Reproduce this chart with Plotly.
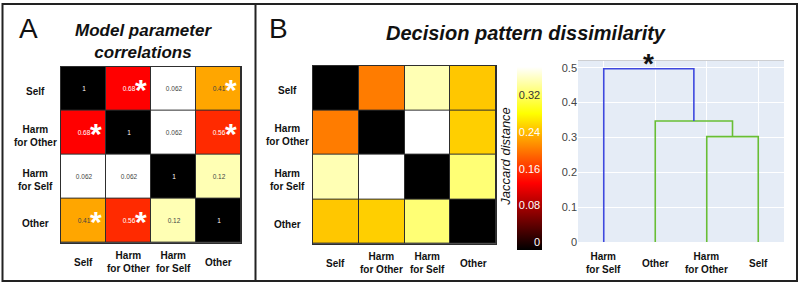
import plotly.graph_objects as go

FONT = "Liberation Sans, Arial, sans-serif"
W, H = 800, 290

# ---------------- data ----------------
params = ["Self", "Harm for Other", "Harm for Self", "Other"]
param_labels = ["Self", "Harm<br>for Other", "Harm<br>for Self", "Other"]

# Panel A: model parameter correlations (rows top -> bottom)
corr_self = [1, 0.68, 0.062, 0.41]
corr_harm_other = [0.68, 1, 0.062, 0.56]
corr_harm_self = [0.062, 0.062, 1, 0.12]
corr_other = [0.41, 0.56, 0.12, 1]
sig_self = [False, True, False, True]
sig_harm_other = [True, False, False, True]
sig_harm_self = [False, False, False, False]
sig_other = [True, True, False, False]

# Panel B: Jaccard distances (rows top -> bottom)
jac_self = [0, 0.22, 0.37, 0.265]
jac_harm_other = [0.22, 0, 0.40, 0.27]
jac_harm_self = [0.37, 0.40, 0, 0.345]
jac_other = [0.265, 0.27, 0.345, 0]
cbar_tickvals = [0, 0.08, 0.16, 0.24, 0.32]
cbar_ticktext = ["0", "0.08", "0.16", "0.24", "<span style='color:#333'>0.32</span>"]

# Dendrogram (leaf order left -> right, scipy-style linkage)
leaf_order = ["Harm for Self", "Other", "Harm for Other", "Self"]
leaf_labels = ["Harm<br>for Self", "Other", "Harm<br>for Other", "Self"]
merge_left = [2, 1, 0]        # indices: 0..3 leaves, 4.. clusters
merge_right = [3, 4, 5]
merge_height = [0.302, 0.347, 0.497]
merge_sig = [False, False, True]

# ---------------- styles ----------------
GREEN = "rgb(104,190,52)"
BLUE = "rgb(62,72,222)"
merge_color = [GREEN, GREEN, BLUE]
GRIDLINE = "#2e2e2e"

corr_scale = [[0, "#ffffff"], [0.07, "#ffffff"], [0.12, "#ffffb4"], [0.41, "#ffa600"],
              [0.56, "#ff2a00"], [0.68, "#ff0000"], [0.84, "#7a0000"], [1, "#000000"]]
hot_scale = [[0, "#000000"], [0.365, "#ff0000"], [0.746, "#ffff00"], [1, "#ffffff"]]


def px_x(p):
    return p / W


def px_y(p):
    return 1 - p / H


fig = go.Figure()

corr_z = [corr_self, corr_harm_other, corr_harm_self, corr_other]
corr_sig = [sig_self, sig_harm_other, sig_harm_self, sig_other]
fig.add_trace(go.Heatmap(
    z=corr_z, x=params, y=params, xaxis="x", yaxis="y",
    colorscale=corr_scale, zmin=0, zmax=1, showscale=False,
    xgap=1, ygap=1, texttemplate="%{z}", textfont=dict(size=6.5, family=FONT),
    hoverinfo="skip"))

jac_z = [jac_self, jac_harm_other, jac_harm_self, jac_other]
fig.add_trace(go.Heatmap(
    z=jac_z, x=params, y=params, xaxis="x2", yaxis="y2",
    colorscale=hot_scale, zmin=0, zmax=0.4, xgap=1, ygap=1,
    colorbar=dict(x=px_x(517), xanchor="left", xref="paper", xpad=0, ypad=0,
                  y=px_y(68), yanchor="top", yref="paper",
                  thickness=25, thicknessmode="pixels",
                  len=183, lenmode="pixels", outlinewidth=0,
                  tickvals=cbar_tickvals, ticktext=cbar_ticktext, ticks="",
                  ticklabelposition="inside top",
                  tickfont=dict(size=11, color="white", family=FONT)),
    hoverinfo="skip"))

# dendrogram links
pos = {i: 5 + 10 * i for i in range(len(leaf_order))}
hgt = {i: 0.0 for i in range(len(leaf_order))}
annotations = []
for k in range(len(merge_height)):
    l, r, h = merge_left[k], merge_right[k], merge_height[k]
    fig.add_trace(go.Scatter(
        x=[pos[l], pos[l], pos[r], pos[r]], y=[hgt[l], h, h, hgt[r]],
        mode="lines", line=dict(color=merge_color[k], width=1.6),
        xaxis="x4", yaxis="y4", showlegend=False, hoverinfo="skip"))
    new = len(leaf_order) + k
    pos[new] = (pos[l] + pos[r]) / 2
    hgt[new] = h
    if merge_sig[k]:
        annotations.append(dict(x=pos[new], y=h, xref="x4", yref="y4", text="*",
                                showarrow=False, xanchor="center", yanchor="middle", yshift=5,
                                font=dict(size=28, color="#111", family=FONT, weight="bold")))

# significance asterisks in panel A
for i, row in enumerate(corr_sig):
    for j, s in enumerate(row):
        if s:
            annotations.append(dict(x=params[j], y=params[i], xref="x", yref="y", text="*",
                                    showarrow=False, xanchor="center", yanchor="middle",
                                    xshift=12, yshift=-1,
                                    font=dict(size=30, color="white", family=FONT, weight="bold")))

lab_font = dict(size=10, color="#111", family=FONT, weight="bold")
for p, lab in zip(params, param_labels):
    annotations.append(dict(x=px_x(35), xref="paper", y=p, yref="y", text=lab,
                            showarrow=False, font=lab_font, align="center",
                            xanchor="center", yanchor="middle", yshift=-3))
    annotations.append(dict(x=p, xref="x", y=px_y(268), yref="paper", text=lab,
                            showarrow=False, font=lab_font, align="center",
                            xanchor="center", yanchor="middle"))
    annotations.append(dict(x=px_x(287), xref="paper", y=p, yref="y2", text=lab,
                            showarrow=False, font=lab_font, align="center",
                            xanchor="center", yanchor="middle", yshift=-3))
    annotations.append(dict(x=p, xref="x2", y=px_y(269), yref="paper", text=lab,
                            showarrow=False, font=lab_font, align="center",
                            xanchor="center", yanchor="middle"))
for i, lab in enumerate(leaf_labels):
    annotations.append(dict(x=pos[i], xref="x4", y=px_y(269), yref="paper", text=lab,
                            showarrow=False, font=lab_font, align="center",
                            xanchor="center", yanchor="middle"))

# titles & panel letters
annotations += [
    dict(x=px_x(143), y=px_y(42), xref="paper", yref="paper", showarrow=False,
         text="Model parameter<br>correlations", xanchor="center", yanchor="middle",
         font=dict(size=17, color="#111", family=FONT, weight="bold", style="italic")),
    dict(x=px_x(526), y=px_y(34), xref="paper", yref="paper", showarrow=False,
         text="Decision pattern dissimilarity", xanchor="center", yanchor="middle",
         font=dict(size=20, color="#111", family=FONT, weight="bold", style="italic")),
    dict(x=px_x(28), y=px_y(29), xref="paper", yref="paper", showarrow=False,
         text="A", xanchor="center", yanchor="middle",
         font=dict(size=28, color="#111", family=FONT)),
    dict(x=px_x(278), y=px_y(29), xref="paper", yref="paper", showarrow=False,
         text="B", xanchor="center", yanchor="middle",
         font=dict(size=28, color="#111", family=FONT)),
    dict(x=px_x(506), y=px_y(159), xref="paper", yref="paper", showarrow=False,
         text="Jaccard distance", textangle=-90, xanchor="center", yanchor="middle",
         font=dict(size=13, color="#111", family=FONT, style="italic")),
]

hm_axis = dict(showticklabels=False, ticks="", showgrid=False, zeroline=False,
               showline=True, mirror=True, linecolor=GRIDLINE, linewidth=1)

fig.update_layout(
    width=W, height=H, margin=dict(l=0, r=0, t=0, b=0),
    paper_bgcolor="white", plot_bgcolor=GRIDLINE, showlegend=False,
    font=dict(family=FONT),
    xaxis=dict(domain=[px_x(61), px_x(241)], anchor="y", **hm_axis),
    yaxis=dict(domain=[px_y(248), px_y(68)], anchor="x", autorange="reversed", **hm_axis),
    xaxis2=dict(domain=[px_x(313), px_x(496)], anchor="y2", **hm_axis),
    yaxis2=dict(domain=[px_y(249), px_y(67)], anchor="x2", autorange="reversed", **hm_axis),
    xaxis4=dict(domain=[px_x(578), px_x(784)], anchor="y4", range=[0, 40],
                tickvals=[pos[i] for i in range(len(leaf_order))], showticklabels=False,
                showgrid=True, gridcolor="white", zeroline=False, ticks=""),
    yaxis4=dict(domain=[px_y(247), px_y(62)], anchor="x4", range=[0, 0.52],
                tick0=0, dtick=0.1, showgrid=True, gridcolor="white", zeroline=False,
                ticks="", tickfont=dict(size=11, color="#444", family=FONT)),
    annotations=annotations,
    shapes=[
        dict(type="rect", xref="x4 domain", yref="y4 domain", x0=0, x1=1, y0=0, y1=1,
             fillcolor="#e5ecf6", line=dict(width=0), layer="below"),
        dict(type="rect", xref="paper", yref="paper", x0=px_x(2.5), x1=px_x(797),
             y0=px_y(287), y1=px_y(4), line=dict(color="#222", width=2)),
        dict(type="line", xref="paper", yref="paper", x0=px_x(255.5), x1=px_x(255.5),
             y0=px_y(287), y1=px_y(4), line=dict(color="#222", width=2)),
    ],
)

fig.write_html("out.html", config={"displayModeBar": False},
               post_script="document.body.style.margin='0';document.body.style.overflow='hidden';")
